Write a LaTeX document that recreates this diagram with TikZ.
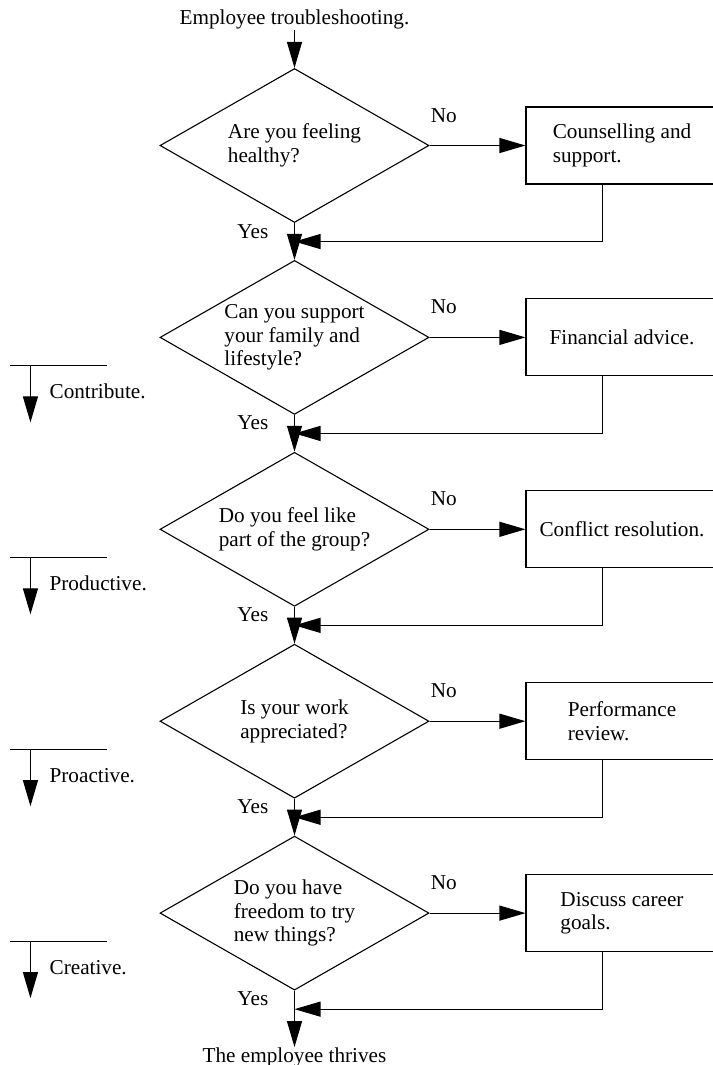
\documentclass[tikz,border=0pt]{standalone}
\usepackage{fontspec}
\setmainfont{Liberation Serif}
\usetikzlibrary{shapes.geometric,arrows.meta,calc}
\begin{document}
\begin{tikzpicture}[x=1pt,y=-1pt,
  every node/.style={font=\fontsize{21.2}{23.5}\selectfont},
  flow/.style={line width=1.1pt, -{Triangle[length=26pt,width=15pt]}},
  rule/.style={line width=1.1pt},
  decision/.style={diamond, draw, line width=1.1pt, aspect=1.75,
    minimum width=269pt, minimum height=154pt, inner sep=0pt, align=left},
  action/.style={rectangle, draw, line width=1.1pt,
    minimum width=192pt, minimum height=77pt, inner sep=0pt, align=left},
  txt/.style={inner sep=0pt},
]
\useasboundingbox (0,0) rectangle (712,1065);

% start and end
\node[txt, anchor=base] (title) at (294.5,25) {Employee troubleshooting.};
\node[txt, anchor=base] (end) at (294.5,1062) {The employee thrives};

% questions
\node[decision] (d1) at (294.5,145.5) {Are you feeling\\healthy?};
\node[decision] (d2) at (294.5,337.4) {Can you support\\your family and\\lifestyle?};
\node[decision] (d3) at (294.5,529.3) {Do you feel like\\part of the group?};
\node[decision] (d4) at (294.5,721.2) {Is your work\\appreciated?};
\node[decision] (d5) at (294.5,913.1) {Do you have\\freedom to try\\new things?};

% remedies
\node[action] (b1) at (622,145.5) {Counselling and\\support.};
\node[action] (b2) at (622,337.4) {Financial advice.};
\node[action] (b3) at (622,529.3) {Conflict resolution.};
\node[action] (b4) at (622,721.2) {Performance\\review.};
\node[action] (b5) at (622,913.1) {Discuss career\\goals.};

\draw[flow] (title.south) -- (d1.north);

\foreach \i in {1,...,5}{
  \node[txt, anchor=base west] (no\i) at ($(d\i.east)+(1,-23.5)$) {No};
  \node[txt, anchor=base east] (yes\i) at ($(d\i.south)+(-26,15)$) {Yes};
  \coordinate (j\i) at ($(d\i.south)+(0,18.5)$);
  \draw[flow] (d\i.east) -- (b\i.west);
  \draw[flow] ([xshift=77pt]b\i.south west) |- (j\i);
}
\foreach \i [evaluate=\i as \n using int(\i+1)] in {1,...,4}{
  \draw[flow] (d\i.south) -- (d\n.north);
}
\draw[flow] (d5.south) -- (end.north);

% stage markers on the left
\foreach \i/\s in {2/Contribute., 3/Productive., 4/Proactive., 5/Creative.}{
  \coordinate (ma\i) at ($(d\i.west)+(-149,28)$);
  \coordinate (mb\i) at ($(d\i.west)+(-52,28)$);
  \coordinate (mt\i) at ($(d\i.west)+(-129,28)$);
  \coordinate (mh\i) at ($(d\i.west)+(-129,85)$);
  \draw[rule] (ma\i) -- (mb\i);
  \draw[flow] (mt\i) -- (mh\i);
  \node[txt, anchor=base west] (stage\i) at ($(d\i.west)+(-110,61)$) {\s};
}
\end{tikzpicture}
\end{document}
